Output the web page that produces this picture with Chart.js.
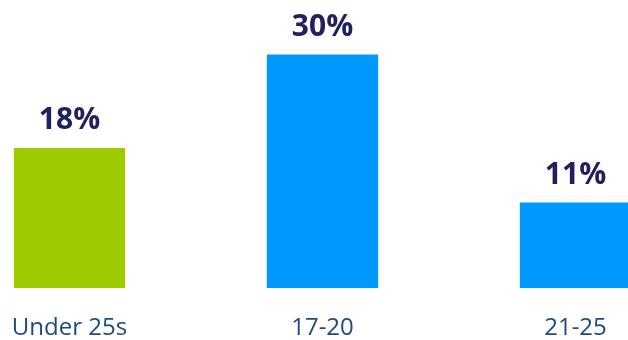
<!DOCTYPE html>
<html>
<head>
<meta charset="utf-8">
<script src="https://cdn.jsdelivr.net/npm/chart.js@4"></script>
<style>
  html, body { margin: 0; padding: 0; background: #fff; }
  #wrap { width: 628px; height: 340px; }
</style>
</head>
<body>
<div id="wrap"><canvas id="chart" width="628" height="340"></canvas></div>
<script>
const categories = ["Under 25s", "17-20", "21-25"];
const shares = [18, 30, 11];
const barColours = ["#9ecb00", "#0099ff", "#0099ff"];

// percentages written above each bar
const valueLabels = {
  id: "valueLabels",
  afterDatasetsDraw(chart) {
    const ctx = chart.ctx;
    const meta = chart.getDatasetMeta(0);
    ctx.save();
    ctx.font = "bold 30px 'Open Sans'";
    ctx.fillStyle = "#23205e";
    ctx.textAlign = "center";
    ctx.textBaseline = "bottom";
    meta.data.forEach((bar, i) => {
      ctx.fillText(shares[i] + "%", bar.x, bar.y - 12);
    });
    ctx.restore();
  },
};

new Chart(document.getElementById("chart"), {
  type: "bar",
  data: {
    labels: categories,
    datasets: [
      {
        data: shares,
        backgroundColor: barColours,
        borderWidth: 0,
        categoryPercentage: 1,
        barPercentage: 0.44,
        clip: false,
      },
    ],
  },
  options: {
    responsive: false,
    animation: false,
    layout: { padding: { left: 69.5, right: 52.5, top: 0, bottom: 0 } },
    plugins: {
      legend: { display: false },
      tooltip: { enabled: false },
    },
    scales: {
      x: {
        offset: false,
        grid: { display: false, drawTicks: false },
        border: { display: false },
        ticks: {
          padding: 26,
          color: "#1f4a7a",
          font: { family: "'Open Sans'", size: 24 },
          maxRotation: 0,
        },
        afterFit(scale) {
          scale.height = 52;
          scale.paddingLeft = 0;
          scale.paddingRight = 0;
        },
      },
      y: {
        display: false,
        min: 0,
        max: 37,
      },
    },
  },
  plugins: [valueLabels],
});
</script>
</body>
</html>
